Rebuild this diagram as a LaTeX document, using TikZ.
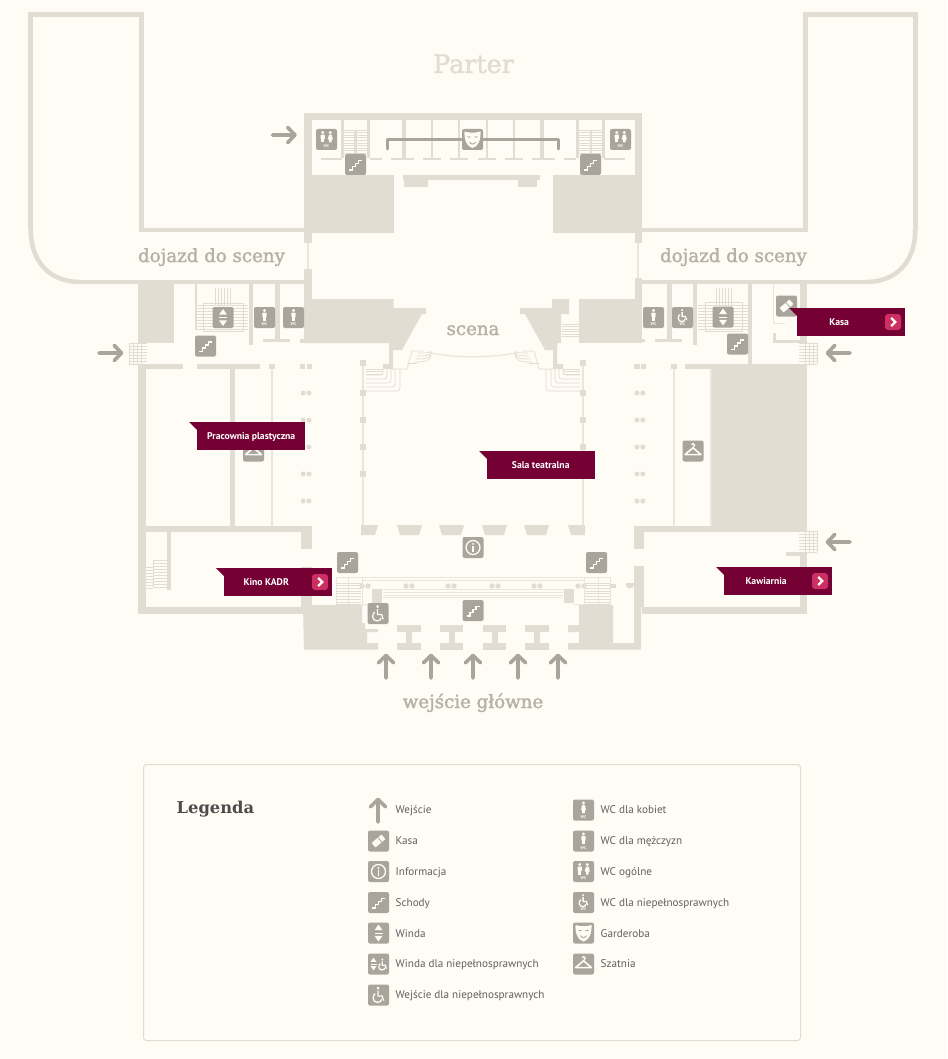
\documentclass[tikz,border=0pt]{standalone}
\usepackage{fontspec}
\setmainfont{PT Sans}
\newfontfamily\slab[FakeBold=1.6]{DejaVu Serif}
\newfontfamily\slabb{DejaVu Serif Bold}
\usetikzlibrary{positioning}
\definecolor{tlo}{HTML}{FFFBF5}
\definecolor{sciana}{HTML}{E2DDD3}
\definecolor{cienka}{HTML}{EAE6DC}
\definecolor{ikona}{HTML}{A9A49C}
\definecolor{bordo}{HTML}{750034}
\definecolor{roz}{HTML}{CC2F62}
\definecolor{napis}{HTML}{B5B1A9}
\tikzset{
	wall/.style={fill=sciana},
	thinwall/.style={draw=cienka,line width=1.8pt},
	stripe/.style={draw=sciana,line width=.7pt},
	dotcol/.style={fill=sciana},
	plan/.style={font=\slab\fontsize{18.2}{20}\selectfont,text=napis,inner sep=0,anchor=base},
	flagbox/.style={fill=bordo,minimum width=108pt,minimum height=28pt,inner sep=0,anchor=north west},
	flagtxt/.style={font=\bfseries\fontsize{9.7}{11}\selectfont,text=white,inner sep=0,anchor=base},
	legtxt/.style={font=\fontsize{11.15}{13}\selectfont,text=black!62,anchor=base west,inner sep=0},
	glyph/.style={fill=tlo},
	gline/.style={draw=tlo,line width=1.6pt},
	box/.pic={\fill[ikona,rounded corners=2pt] (-10.5,-10.5) rectangle (10.5,10.5);},
	wctxt/.pic={\node[font=\bfseries\fontsize{4}{4}\selectfont,text=tlo,inner sep=0] (wc) at (0,7) {WC};},
	pan/.pic={\fill[glyph] (0,-7) circle (1.6);
		\fill[glyph,rounded corners=.6pt] (-2.2,-4.8) rectangle (2.2,-.5);
		\fill[glyph] (-1.5,-1) rectangle (1.5,3);},
	pani/.pic={\fill[glyph] (0,-7) circle (1.6);
		\fill[glyph] (-1.4,-4.8) -- (1.4,-4.8) -- (2.6,.2) -- (1.3,.2) -- (1.3,3) -- (-1.3,3) -- (-1.3,.2) -- (-2.6,.2) -- cycle;},
	wozekg/.pic={\fill[glyph] (-.5,-7) circle (1.5);
		\draw[gline,line width=1.3pt,fill=none] (-.5,-4.5) -- (-.5,1) -- (3.6,1) -- (5.2,5.6);
		\draw[gline,line width=1.3pt,fill=none] (-3.4,-1.4) .. controls (-6.6,1) and (-5.8,7.4) .. (-1,7.4) .. controls (1.4,7.4) and (2.8,6) .. (3.2,4.4);},
	windag/.pic={\fill[glyph] (0,-8.5) -- (4,-2.8) -- (-4,-2.8) -- cycle;
		\fill[glyph] (0,8.5) -- (4,2.8) -- (-4,2.8) -- cycle;
		\draw[gline,line width=.6pt] (-4,0) -- (4,0);},
	schody/.pic={\pic {box};
		\draw[gline] (-6.5,5.5) -- (-3,5.5) -- (-3,2) -- (0,2) -- (0,-1) -- (3,-1) -- (3,-4) -- (6.5,-4);},
	winda/.pic={\pic {box}; \pic {windag};},
	windan/.pic={\pic {box};
		\pic[scale=.75] at (-5,0) {windag};
		\pic[scale=.72] at (4.2,.6) {wozekg};},
	wozek/.pic={\pic {box}; \pic {wozekg};},
	wcm/.pic={\pic {box}; \pic {pan}; \pic {wctxt};},
	wck/.pic={\pic {box}; \pic {pani}; \pic {wctxt};},
	wco/.pic={\pic {box}; \pic at (-3.8,0) {pan}; \pic at (3.8,0) {pani}; \pic {wctxt};},
	wcn/.pic={\pic {box}; \pic[scale=.8] at (0,-1.8) {wozekg}; \pic {wctxt};},
	kasa/.pic={\pic {box};
		\fill[glyph,rotate=40,rounded corners=.5pt] (-6.5,-3) rectangle (6.5,3);
		\draw[ikona,rotate=40,line width=.8pt] (1.8,-3) -- (1.8,3);},
	info/.pic={\pic {box};
		\draw[gline,line width=1.3pt] (0,0) circle (7);
		\fill[glyph] (0,-3.6) circle (1.1);
		\draw[gline] (0,-1.3) -- (0,4.2);},
	maska/.pic={\pic {box};
		\fill[glyph] (-8,-8) .. controls (-3,-6.4) and (3,-6.4) .. (8,-8) .. controls (8.4,0) and (6,7) .. (0,8.6) .. controls (-6,7) and (-8.4,0) .. (-8,-8) -- cycle;
		\draw[ikona,line width=.9pt] (-5,-2.8) -- (-2,-2.3) (5,-2.8) -- (2,-2.3);
		\draw[ikona,line width=.9pt] (-3,2.6) .. controls (-1.5,5.2) and (1.5,5.2) .. (3,2.6);},
	szatnia/.pic={\pic {box};
		\draw[gline,line join=round] (0,-3.2) -- (-8,3.6) -- (8,3.6) -- cycle;
		\draw[gline,line width=1.2pt] (-1.6,-6.2) .. controls (-1.4,-8) and (1.8,-8) .. (1.6,-5.8) .. controls (1.4,-4.6) and (0,-4.6) .. (0,-3.2);},
	wiecej/.pic={\fill[roz,rounded corners=3pt] (-8,-8) rectangle (8,8);
		\draw[tlo,line width=2.2pt] (-1.8,-4) -- (2.2,0) -- (-1.8,4);},
	strzalka/.pic={\draw[ikona,line width=3.6pt,line cap=round,line join=round]
		(0,12) -- (0,-10.5) (-7.6,-3.2) -- (0,-10.5) -- (7.6,-3.2);}
}
% polowa symetryczna planu
\newcommand{\polowa}{
	% dojazd
	\draw[sciana,line width=5pt] (141,232) -- (141,14.7) -- (30.8,14.7) -- (30.8,230);
	\draw[sciana,line width=4.5pt] (30.8,230) .. controls (30.8,262) and (50,282) .. (80,282);
	\fill[wall] (141,228.3) rectangle (304,232.3);
	\fill[wall] (78,280) rectangle (304,284);
	% zaplecze
	\fill[wall] (304,113) rectangle (473,120.5);
	\fill[wall] (304,113) rectangle (311.5,243);
	\fill[wall] (304,278) rectangle (311.5,343);
	\draw[thinwall] (307.8,243) -- (307.8,278);
	\fill[wall] (304,175) rectangle (393.5,233);
	\foreach \a/\b in {321/342,370/382,391/414,423/441,450/468}
		\fill[wall] (\a,158.2) rectangle (\b,160.2);
	\foreach \x/\w in {342.5/3,368.5/3,404/4,432/2,459/2.5}
		\fill[wall] (\x-\w/2,120) rectangle (\x+\w/2,158.5);
	\foreach \y in {130,132.6,...,156}
		\draw[stripe] (344,\y) -- (367,\y);
	\fill[wall] (354,130) rectangle (356.5,157);
	% sala
	\draw[thinwall] (363,366) -- (363,525);
	\foreach \y in {363,393,420,447,474}
		\fill[wall] (360.2,\y-3) rectangle (365.8,\y+3);
	\foreach \a/\b in {400/391,395/387,391/383,387/379,383/375}
		\draw[stripe,rounded corners=3pt] (366,\b) -- (\a,\b) -- (\a,369);
	\foreach \y in {369,371.5,374}
		\draw[stripe] (366,\y) -- (383,\y);
	\draw[thinwall,line width=1pt] (393,369) -- (407,369) -- (412,351) -- (423,351);
	\foreach \d in {0,3,6,9}
		\draw[stripe] (418-\d*.4,353+\d) .. controls (425,353+\d) and (431,353+\d*.9) .. (431,351+\d*.3);
	\draw[stripe] (407,363) -- (417,363);
	\foreach \a/\b in {397/422,439/464}
		\fill[wall] (\a,525) -- (\b,525) -- (\b-.5,527) -- (\b-3,535) -- (\a+3,535) -- (\a+.5,527) -- cycle;
	\fill[wall] (361,525) -- (378,525) -- (375,535) -- (361,535) -- cycle;
	\foreach \y in {393,420,447,474,501}{
		\fill[dotcol] (303.2,\y) circle (2.5);
		\fill[dotcol] (309,\y) circle (2.5);
	}
	\fill[wall] (300,364) rectangle (305,369);
	\fill[wall] (306.5,364) rectangle (312,369);
	% slupy i drzwi
	\foreach \x in {362,368,406,412,448,454}
		\fill[dotcol] (\x,586) circle (2.7);
	\foreach \a/\b in {397/421,440/463}{
		\fill[wall] (\a,625) rectangle (\b,632);
		\fill[wall] (\a,643) rectangle (\b,649.5);
		\fill[wall] (\a/2+\b/2-3,632) rectangle (\a/2+\b/2+3,643);
	}
	\draw[thinwall,line width=1pt] (336,577) rectangle (362,605);
	\draw[thinwall,line width=1pt] (348,577) -- (348,605);
	\foreach \y in {583,585.7,...,605}
		\draw[stripe] (336,\y) -- (361,\y);
	\draw[thinwall,line width=1pt] (362,589) -- (362,604) -- (372,604);
	\fill[wall] (372,589) rectangle (382,603);
	\draw[thinwall,line width=1pt] (362,577) -- (473,577) (362,580) -- (473,580);
	\foreach \y in {589,592.5,595,597.7}
		\draw[thinwall,line width=.9pt] (383,\y) -- (473,\y);
}
\begin{document}
\begin{tikzpicture}[x=1pt,y=-1pt]
	\useasboundingbox[fill=tlo] (0,0) rectangle (947,1059);

	\polowa
	\begin{scope}[xscale=-1,xshift=-946]
	\polowa
	\end{scope}

	% scena
	\fill[wall] (304,269) rectangle (311.5,278);
	\fill[wall] (304,299) -- (393.5,299) -- (393.5,308) -- (426,308) -- (426,314) -- (422,314) -- (402,350) -- (393,350) -- (393,369) -- (383,369) -- (383,364) -- (389,364) -- (389,343) -- (304,343) -- cycle;
	\fill[wall] (552,299) -- (569,299) -- (569,314) -- (561,314) -- (561,343) -- (557,343) -- (557,364) -- (563,364) -- (563,369) -- (553,369) -- (553,350) -- (545,350) -- (525,314) -- (520,314) -- (520,308) -- (552,308) -- cycle;
	\fill[wall] (579,299) rectangle (642,343);
	\foreach \y in {324,326.5,...,338}
		\draw[stripe] (562,\y) -- (579,\y);
	\draw[thinwall,line width=1.2pt] (431,353) .. controls (455,358) and (491,358) .. (515,353);
	\fill[wall] (403,175) rectangle (539.5,180);
	\fill[wall] (404,180) rectangle (428,187);
	\fill[wall] (518,180) rectangle (537,187);
	\draw[ikona,line width=3pt,line cap=round,line join=round] (387,149) -- (387,140) -- (558.5,140) -- (558.5,149);

	% lewe skrzydlo
	\fill[wall] (138,284) rectangle (174,343);
	\fill[wall] (138,364) rectangle (146,614);
	\fill[wall] (138,607) rectangle (303,614);
	\fill[wall] (146,364) rectangle (182.5,369);
	\fill[wall] (197,364) rectangle (260,369);
	\fill[wall] (269,364) rectangle (275,369);
	\fill[wall] (230,369) rectangle (235,526);
	\draw[thinwall,line width=1.6pt] (272,369) -- (272,526);
	\fill[wall] (146,526) rectangle (312,532);
	\fill[wall] (301,532) rectangle (312,549);
	\fill[wall] (301,567) rectangle (312,607);
	\fill[wall] (195,284) rectangle (197,330);
	\fill[wall] (249,284) rectangle (253,345);
	\fill[wall] (275,284) rectangle (280,341);
	\fill[wall] (263,338.5) rectangle (290,342);
	\fill[wall] (300,339) rectangle (312,343);
	\fill[wall] (167,532) rectangle (170.5,590);
	\foreach \y in {560,563,...,588}
		\draw[stripe] (153,\y) -- (167,\y);
	\foreach \y in {567,570,...,588}
		\draw[stripe] (146,\y) -- (153,\y);
	\draw[stripe] (153,560) -- (153,588);
	\foreach \y in {343,346,...,364}
		\draw[stripe] (129,\y) -- (147,\y);
	\foreach \x in {129,133,137,141}
		\draw[stripe] (\x,343) -- (\x,364);
	\foreach \y in {305,308,...,330}
		\draw[stripe] (197,\y) -- (248,\y);
	\foreach \x in {215,218,...,230}
		\draw[stripe] (\x,288) -- (\x,305);
	\draw[stripe] (203,303) rectangle (243,331);

	% prawe skrzydlo
	\fill[wall] (800,284) rectangle (807,343);
	\fill[wall] (712,364) rectangle (807,532);
	\fill[wall] (800,552) rectangle (807,614);
	\fill[wall] (642,607) rectangle (807,614);
	\fill[wall] (634,526) rectangle (712,532);
	\fill[wall] (685,364) rectangle (712,369);
	\fill[wall] (671,364) rectangle (677,369);
	\draw[thinwall,line width=1.6pt] (674,369) -- (674,526);
	\draw[thinwall,line width=1.6pt] (711,369) -- (711,526);
	\fill[wall] (634,532) rectangle (644,549);
	\fill[wall] (634,566) rectangle (644,607);
	\fill[wall] (634,607) rectangle (641,649);
	\fill[wall] (626,583) rectangle (634,586);
	\fill[wall] (786,551.5) rectangle (800,556);
	\fill[wall] (667,284) rectangle (672,340);
	\fill[wall] (693,284) rectangle (697,345);
	\fill[wall] (748,284) rectangle (752,364);
	\fill[wall] (620,338.5) rectangle (645,342);
	\fill[wall] (655,338.5) rectangle (682,342);
	\fill[wall] (773,333) rectangle (776,343);
	\fill[wall] (773,340) rectangle (800,343);
	\draw[thinwall,line width=1pt] (773.5,284) -- (773.5,323) -- (785,323);
	\foreach \y in {305,308,...,330}
		\draw[stripe] (698,\y) -- (748,\y);
	\foreach \x in {716,719,...,731}
		\draw[stripe] (\x,288) -- (\x,305);
	\draw[stripe] (705,302) rectangle (742,331);
	\foreach \y in {343,346,...,364}
		\draw[stripe] (799,\y) -- (817,\y);
	\foreach \x in {805,809,813,817}
		\draw[stripe] (\x,343) -- (\x,364);
	\foreach \y in {531,534,...,552}
		\draw[stripe] (799,\y) -- (817,\y);
	\foreach \x in {805,809,813,817}
		\draw[stripe] (\x,531) -- (\x,552);

	% dol
	\fill[wall] (303,605) -- (362,605) -- (362,623) -- (365,623) -- (365,629) -- (378,629) -- (378,632) -- (367,632) -- (367,643) -- (378,643) -- (378,649.5) -- (304,649.5) -- cycle;
	\fill[wall] (579,605) -- (613,605) -- (613,643) -- (634,643) -- (634,607) -- (641,607) -- (641,649.5) -- (568,649.5) -- (568,643) -- (579,643) -- (579,632) -- (568,632) -- (568,625) -- (579,625) -- cycle;
	\fill[wall] (610,584) rectangle (616,588);
	\fill[wall] (627,584) rectangle (633,588);

	%stawiamy ikony
	\pic at (326.5,139.5) {wco};
	\pic at (620.5,139.5) {wco};
	\pic at (355.5,164.5) {schody};
	\pic at (590.5,164.5) {schody};
	\pic at (472.5,139.5) {maska};
	\pic at (223,317.5) {winda};
	\pic at (264.5,317.5) {wcm};
	\pic at (293.5,317.5) {wcm};
	\pic at (205.5,346) {schody};
	\pic at (653.5,317.5) {wcm};
	\pic at (682.5,317.5) {wcn};
	\pic at (723,317) {winda};
	\pic at (737.5,344) {schody};
	\pic at (786.5,306) {kasa};
	\pic at (253.5,451) {szatnia};
	\pic at (693,451) {szatnia};
	\pic at (473,547.5) {info};
	\pic at (347.5,562.5) {schody};
	\pic at (596.5,562.5) {schody};
	\pic at (473,610.5) {schody};
	\pic at (378,613.5) {wozek};

	%strzalki
	\pic at (386,666) {strzalka};
	\pic at (431,666) {strzalka};
	\pic at (473,666) {strzalka};
	\pic at (518,666) {strzalka};
	\pic at (558,666) {strzalka};
	\pic[rotate=-90] at (284.5,135) {strzalka};
	\pic[rotate=-90] at (111,353) {strzalka};
	\pic[rotate=90] at (838,353) {strzalka};
	\pic[rotate=90] at (838,542) {strzalka};

	%etykiety
	\node[flagbox] (pracownia) at (197,422) {};
	\fill[bordo] (pracownia.north west) -- ++(-8,0) -- ++(8,8) -- cycle;
	\node[flagtxt] (pracowniatxt) at ([yshift=-3.3]pracownia.center) {Pracownia plastyczna};
	\node[flagbox] (sala) at (487,451) {};
	\fill[bordo] (sala.north west) -- ++(-8,0) -- ++(8,8) -- cycle;
	\node[flagtxt] (salatxt) at ([xshift=-.5,yshift=-3.3]sala.center) {Sala teatralna};
	\node[flagbox] (kino) at (224,568) {};
	\fill[bordo] (kino.north west) -- ++(-8,0) -- ++(8,8) -- cycle;
	\node[flagtxt] (kinotxt) at ([xshift=-12,yshift=-3.3]kino.center) {Kino KADR};
	\pic at (320,582) {wiecej};
	\node[flagbox] (kawiarnia) at (724,567) {};
	\fill[bordo] (kawiarnia.north west) -- ++(-8,0) -- ++(8,8) -- cycle;
	\node[flagtxt] (kawiarniatxt) at ([xshift=-12,yshift=-3.3]kawiarnia.center) {Kawiarnia};
	\pic at (820,581) {wiecej};
	\node[flagbox] (kasabox) at (797,308) {};
	\fill[bordo] (kasabox.north west) -- ++(-8,0) -- ++(8,8) -- cycle;
	\node[flagtxt] (kasatxt) at ([xshift=-12,yshift=-3.3]kasabox.center) {Kasa};
	\pic at (893,322) {wiecej};

	\node[plan,text=sciana,font=\slab\fontsize{25.4}{26}\selectfont] (parter) at (473.5,73) {Parter};
	\node[plan] (dojazdl) at (211.5,262) {dojazd do sceny};
	\node[plan] (dojazdp) at (733.5,262) {dojazd do sceny};
	\node[plan] (scena) at (473,335) {scena};
	\node[plan] (wejscie) at (473,708) {wejście główne};

	%legenda
	\draw[sciana,line width=1pt,rounded corners=3pt] (143.5,764.5) rectangle (800.5,1040.5);
	\node[font=\slabb\fontsize{16.3}{20}\selectfont,text=black!70,anchor=base west,inner sep=0] (legenda) at (176.5,813) {Legenda};
	\pic at (378,810) {strzalka};
	\node[legtxt] (lgwejscie) at (395.5,813) {Wejście};
	\pic at (378.5,841) {kasa};
	\node[legtxt] (lgkasa) at (395.5,844) {Kasa};
	\pic at (378.5,871.5) {info};
	\node[legtxt] (lginfo) at (395.5,875) {Informacja};
	\pic at (378.5,902.5) {schody};
	\node[legtxt] (lgschody) at (395.5,906) {Schody};
	\pic at (378.5,933) {winda};
	\node[legtxt] (lgwinda) at (395.5,937) {Winda};
	\pic at (378.5,964) {windan};
	\node[legtxt] (lgwindan) at (395.5,967) {Winda dla niepełnosprawnych};
	\pic at (378.5,995) {wozek};
	\node[legtxt] (lgwozek) at (395.5,998) {Wejście dla niepełnosprawnych};
	\pic at (583.5,810) {wck};
	\node[legtxt] (lgwck) at (600.5,813) {WC dla kobiet};
	\pic at (583.5,841) {wcm};
	\node[legtxt] (lgwcm) at (600.5,844) {WC dla mężczyzn};
	\pic at (583.5,871.5) {wco};
	\node[legtxt] (lgwco) at (600.5,875) {WC ogólne};
	\pic at (583.5,902.5) {wcn};
	\node[legtxt] (lgwcn) at (600.5,906) {WC dla niepełnosprawnych};
	\pic at (583.5,933) {maska};
	\node[legtxt] (lgmaska) at (600.5,937) {Garderoba};
	\pic at (583.5,964) {szatnia};
	\node[legtxt] (lgszatnia) at (600.5,967) {Szatnia};
\end{tikzpicture}
\end{document}
